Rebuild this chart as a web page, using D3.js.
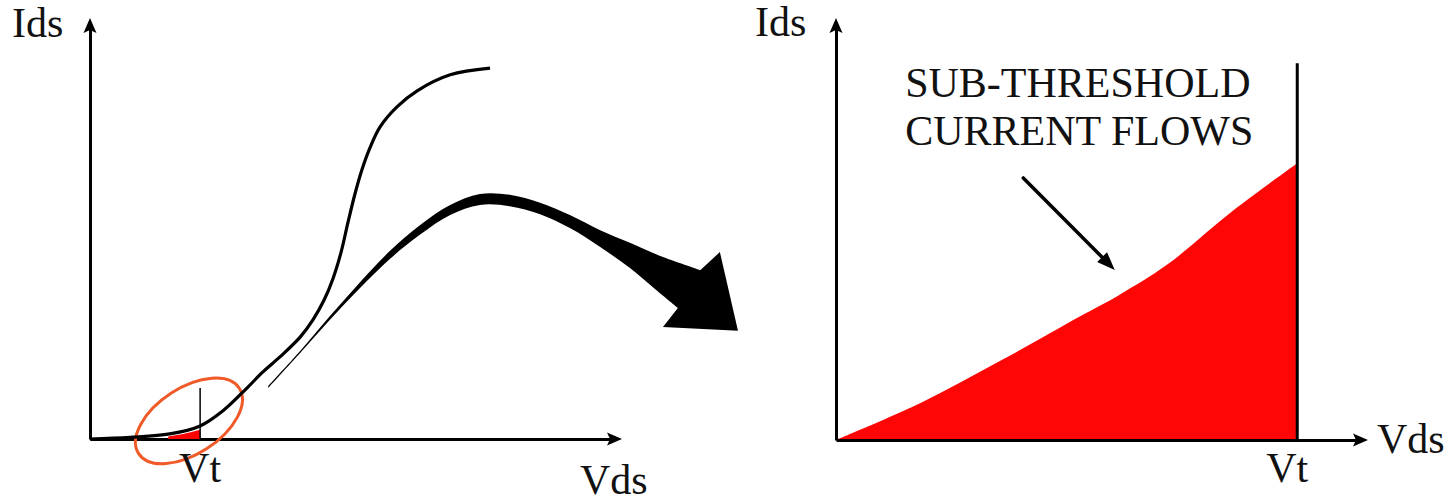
<!DOCTYPE html>
<html>
<head>
<meta charset="utf-8">
<script src="https://cdn.jsdelivr.net/npm/d3@7"></script>
<style>
  html, body { margin: 0; padding: 0; background: #fff; }
  svg { display: block; }
  text { font-family: "Liberation Serif", "Times New Roman", serif; fill: #111; }
</style>
</head>
<body>
<div id="chart"></div>
<script>
// Left panel: full Ids-Vds curve (arbitrary units 0..10 on both axes)
const CURVE_LEFT = [
  [0, 0], [0.75, 0.04], [1.5, 0.12], [2.07, 0.31], [2.5, 0.67], [2.95, 1.21],
  [3.23, 1.57], [3.57, 1.95], [3.95, 2.42], [4.19, 2.83], [4.4, 3.3],
  [4.57, 3.82], [4.72, 4.44], [4.85, 5.15], [4.98, 5.82], [5.11, 6.39],
  [5.26, 6.91], [5.45, 7.41], [5.77, 7.89], [6.15, 8.27], [6.77, 8.65], [7.52, 8.81]
];
// small red sliver under the curve just before Vt
const SUB_LEFT = [[1.47, 0.06], [1.75, 0.12], [2.07, 0.22]];
const VT_LEFT = 2.07;
const VT_TICK_TOP = 1.21;
const HIGHLIGHT = [1.86, 0.43];

// big curved "zoom" arrow, upper and lower edge + head
const ARROW_UPPER = [
  [3.35, 1.26], [3.95, 2.09], [4.51, 2.92], [5.08, 3.73], [5.64, 4.47],
  [6.2, 5.08], [6.77, 5.56], [7.33, 5.82], [7.89, 5.8], [8.46, 5.61],
  [9.02, 5.32], [9.59, 4.96], [10.15, 4.66], [10.71, 4.35], [11.47, 4.01]
];
const ARROW_LOWER = [
  [3.35, 1.21], [3.95, 2.04], [4.51, 2.83], [5.08, 3.59], [5.64, 4.28],
  [6.2, 4.85], [6.77, 5.32], [7.33, 5.56], [7.89, 5.53], [8.46, 5.34],
  [9.02, 5.01], [9.59, 4.56], [10.15, 4.06], [10.62, 3.56], [11.05, 3.11]
];
const ARROW_HEAD = [[11.84, 4.44], [12.18, 2.57], [10.77, 2.66]];

// Right panel: zoomed sub-threshold region
const CURVE_RIGHT = [
  [0, 0], [1.58, 0.87], [3.08, 1.87], [4.59, 2.93], [5.34, 3.45],
  [6.22, 4.15], [7.46, 5.43], [8.67, 6.56]
];
const VT_RIGHT = 8.67;
const VT_LINE_TOP = 8.93;
const NOTE_LINES = ['SUB-THRESHOLD', 'CURRENT FLOWS'];
const NOTE_POS = [[1.3, 8.13], [1.3, 6.99]];
const NOTE_ARROW = [[3.52, 6.21], [5.24, 4.03]];

const width = 1456;
const height = 503;
const FONT = 42;

const svg = d3.select('#chart').append('svg').attr('width', width).attr('height', height);

const xL = d3.scaleLinear().domain([0, 10]).range([90, 622]);
const yL = d3.scaleLinear().domain([0, 10]).range([439, 18]);
const xR = d3.scaleLinear().domain([0, 10]).range([836, 1368]);
const yR = d3.scaleLinear().domain([0, 10]).range([440, 18]);

// axes with arrow heads, no ticks
function drawAxes(x, y) {
  const head = 15, half = 6.5;
  const xs = x.copy().range([x.range()[0], x.range()[1] - 6]);
  const ys = y.copy().range([y.range()[0], y.range()[1] + 6]);

  const gx = svg.append('g').attr('transform', `translate(0,${y(0)})`)
    .call(d3.axisBottom(xs).tickValues([]).tickSizeOuter(0));
  const gy = svg.append('g').attr('transform', `translate(${x(0)},0)`)
    .call(d3.axisLeft(ys).tickValues([]).tickSizeOuter(0));
  [gx, gy].forEach(g => g.select('.domain').attr('stroke', '#000').attr('stroke-width', 3));

  const tx = x(10), ty = y(0);
  svg.append('path')
    .attr('d', `M${tx},${ty}L${tx - head},${ty - half}L${tx - head + 3},${ty}L${tx - head},${ty + half}Z`)
    .attr('fill', '#000');
  const ux = x(0), uy = y(10);
  svg.append('path')
    .attr('d', `M${ux},${uy}L${ux - half},${uy + head}L${ux},${uy + head - 3}L${ux + half},${uy + head}Z`)
    .attr('fill', '#000');
}

// ---------- left panel ----------
drawAxes(xL, yL);

svg.append('ellipse')
  .attr('cx', xL(HIGHLIGHT[0]))
  .attr('cy', yL(HIGHLIGHT[1]))
  .attr('rx', 60)
  .attr('ry', 33)
  .attr('transform', `rotate(-33,${xL(HIGHLIGHT[0])},${yL(HIGHLIGHT[1])})`)
  .attr('fill', 'none')
  .attr('stroke', '#f05a28')
  .attr('stroke-width', 3);

svg.append('path')
  .datum(SUB_LEFT)
  .attr('d', d3.area().x(d => xL(d[0])).y0(yL(0)).y1(d => yL(d[1])).curve(d3.curveMonotoneX))
  .attr('fill', '#ff0000');

svg.append('line')
  .attr('x1', xL(VT_LEFT)).attr('x2', xL(VT_LEFT))
  .attr('y1', yL(0)).attr('y2', yL(VT_TICK_TOP))
  .attr('stroke', '#000')
  .attr('stroke-width', 1.5);

svg.append('path')
  .datum(CURVE_LEFT)
  .attr('d', d3.line().x(d => xL(d[0])).y(d => yL(d[1])).curve(d3.curveCatmullRom))
  .attr('fill', 'none')
  .attr('stroke', '#000')
  .attr('stroke-width', 3.2);

// tapered arrow pointing to the zoomed panel
const edge = d3.line().x(d => xL(d[0])).y(d => yL(d[1])).curve(d3.curveCatmullRom);
const upperD = edge(ARROW_UPPER);
const lowerD = edge(ARROW_LOWER.slice().reverse()).replace(/^M/, 'L');
const headD = ARROW_HEAD.map(d => `L${xL(d[0])},${yL(d[1])}`).join('');
svg.append('path')
  .attr('d', upperD + headD + lowerD + 'Z')
  .attr('fill', '#000');

svg.append('text').attr('x', xL(0) - 78).attr('y', 37).attr('font-size', FONT).text('Ids');
svg.append('text').attr('x', xL(VT_LEFT)).attr('y', 482).attr('text-anchor', 'middle')
  .attr('font-size', FONT).text('Vt');
svg.append('text').attr('x', 580).attr('y', 494).attr('font-size', FONT).text('Vds');

// ---------- right panel ----------
svg.append('path')
  .datum(CURVE_RIGHT)
  .attr('d', d3.area().x(d => xR(d[0])).y0(yR(0)).y1(d => yR(d[1])).curve(d3.curveCatmullRom))
  .attr('fill', '#ff0606');

drawAxes(xR, yR);

svg.append('line')
  .attr('x1', xR(VT_RIGHT)).attr('x2', xR(VT_RIGHT))
  .attr('y1', yR(0)).attr('y2', yR(VT_LINE_TOP))
  .attr('stroke', '#000')
  .attr('stroke-width', 3);

NOTE_LINES.forEach((t, i) => {
  svg.append('text')
    .attr('x', xR(NOTE_POS[i][0]))
    .attr('y', yR(NOTE_POS[i][1]))
    .attr('font-size', FONT)
    .text(t);
});

// annotation arrow
const [a0, a1] = NOTE_ARROW;
const ax0 = xR(a0[0]), ay0 = yR(a0[1]), ax1 = xR(a1[0]), ay1 = yR(a1[1]);
const ang = Math.atan2(ay1 - ay0, ax1 - ax0);
const hl = 18, hw = 7;
const bx = ax1 - hl * Math.cos(ang), by = ay1 - hl * Math.sin(ang);
svg.append('line')
  .attr('x1', ax0).attr('y1', ay0).attr('x2', bx + 3 * Math.cos(ang)).attr('y2', by + 3 * Math.sin(ang))
  .attr('stroke', '#000').attr('stroke-width', 3.5).attr('stroke-linecap', 'round');
svg.append('path')
  .attr('d', `M${ax1},${ay1}L${bx - hw * Math.sin(ang)},${by + hw * Math.cos(ang)}L${bx + hw * Math.sin(ang)},${by - hw * Math.cos(ang)}Z`)
  .attr('fill', '#000');

svg.append('text').attr('x', xR(0) - 81).attr('y', 36).attr('font-size', FONT).text('Ids');
svg.append('text').attr('x', xR(VT_RIGHT) - 10).attr('y', 482).attr('text-anchor', 'middle')
  .attr('font-size', FONT).text('Vt');
svg.append('text').attr('x', xR(10) + 9).attr('y', 453).attr('font-size', FONT).text('Vds');
</script>
</body>
</html>
